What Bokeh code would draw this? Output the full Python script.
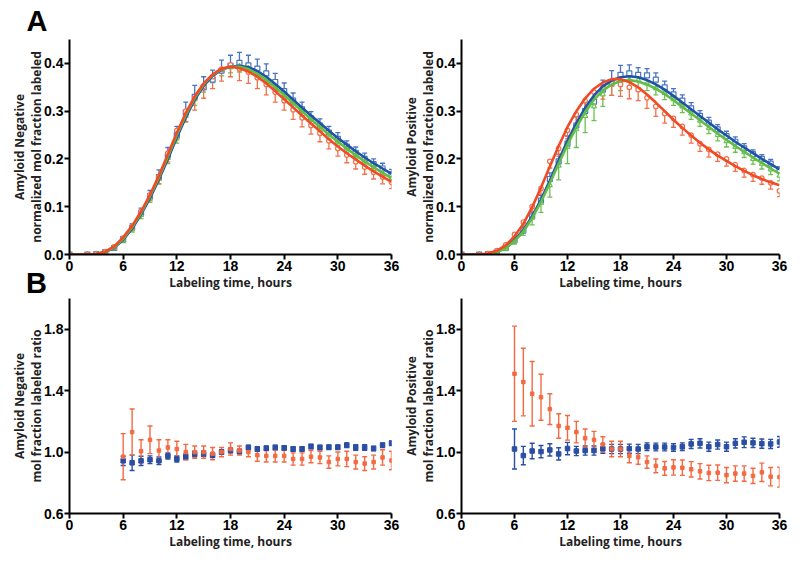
from bokeh.plotting import figure
from bokeh.models import (Range1d, ColumnDataSource, Whisker, TeeHead, Title, Div,
                          FixedTicker, PrintfTickFormatter)
from bokeh.layouts import column, row
from bokeh.embed import file_html
from bokeh.resources import INLINE

# ---------------- data ----------------
CURVE_HOURS = list(range(0, 37))
POINT_HOURS = [0] + list(range(2, 37))
RATIO_HOURS = list(range(6, 37))

neg_blue_fit = [0, 0, 0, 0.001, 0.005, 0.014, 0.031, 0.054, 0.084, 0.118, 0.157, 0.200, 0.245, 0.287, 0.324,
                0.353, 0.374, 0.387, 0.393, 0.395, 0.392, 0.384, 0.372, 0.357, 0.341, 0.324, 0.307, 0.291,
                0.275, 0.259, 0.244, 0.230, 0.216, 0.203, 0.191, 0.180, 0.169]
neg_green_fit = [0, 0, 0, 0.001, 0.005, 0.015, 0.033, 0.057, 0.087, 0.122, 0.161, 0.205, 0.250, 0.292, 0.328,
                 0.356, 0.376, 0.388, 0.393, 0.393, 0.388, 0.378, 0.365, 0.350, 0.334, 0.317, 0.300, 0.283,
                 0.267, 0.251, 0.236, 0.222, 0.208, 0.195, 0.183, 0.171, 0.160]
neg_red_fit = [0, 0, 0, 0.001, 0.006, 0.017, 0.036, 0.060, 0.090, 0.125, 0.165, 0.210, 0.255, 0.296, 0.331,
               0.358, 0.377, 0.389, 0.393, 0.390, 0.383, 0.372, 0.358, 0.342, 0.325, 0.308, 0.291, 0.274,
               0.258, 0.241, 0.226, 0.212, 0.199, 0.186, 0.174, 0.163, 0.152]
neg_blue_pts = [0, 0, 0.001, 0.005, 0.014, 0.032, 0.056, 0.087, 0.122, 0.162, 0.208, 0.250, 0.297, 0.330,
                0.350, 0.366, 0.385, 0.395, 0.401, 0.396, 0.389, 0.379, 0.361, 0.342, 0.322, 0.304, 0.285,
                0.270, 0.255, 0.242, 0.226, 0.213, 0.200, 0.189, 0.180, 0.168]
neg_blue_err = [0, 0, 0.001, 0.002, 0.004, 0.006, 0.008, 0.010, 0.012, 0.015, 0.016, 0.018, 0.022, 0.024,
                0.022, 0.020, 0.022, 0.022, 0.022, 0.021, 0.020, 0.020, 0.018, 0.017, 0.016, 0.015, 0.014,
                0.014, 0.013, 0.013, 0.012, 0.012, 0.012, 0.011, 0.011, 0.010]
neg_green_pts = [0, 0, 0.001, 0.004, 0.013, 0.030, 0.053, 0.083, 0.118, 0.158, 0.202, 0.245, 0.290, 0.325,
                 0.352, 0.372, 0.386, 0.392, 0.394, 0.390, 0.379, 0.366, 0.350, 0.334, 0.317, 0.300, 0.283,
                 0.267, 0.251, 0.236, 0.222, 0.208, 0.195, 0.183, 0.171, 0.160]
neg_green_err = [0, 0, 0.001, 0.002, 0.003, 0.005, 0.006, 0.008, 0.009, 0.010, 0.012, 0.012, 0.013, 0.013,
                 0.012, 0.012, 0.012, 0.012, 0.012, 0.011, 0.011, 0.011, 0.010, 0.010, 0.010, 0.009, 0.009,
                 0.009, 0.009, 0.008, 0.008, 0.008, 0.008, 0.008, 0.008, 0.008]
neg_red_pts = [0, 0, 0.001, 0.006, 0.016, 0.034, 0.058, 0.090, 0.125, 0.163, 0.212, 0.260, 0.300, 0.327,
               0.352, 0.372, 0.388, 0.397, 0.389, 0.382, 0.370, 0.356, 0.340, 0.322, 0.303, 0.286, 0.270,
               0.254, 0.238, 0.222, 0.208, 0.194, 0.183, 0.172, 0.162, 0.151]
neg_red_err = [0, 0, 0.001, 0.002, 0.004, 0.006, 0.008, 0.010, 0.012, 0.015, 0.018, 0.020, 0.022, 0.025,
               0.025, 0.025, 0.025, 0.025, 0.025, 0.024, 0.023, 0.022, 0.021, 0.020, 0.020, 0.019, 0.018,
               0.018, 0.017, 0.016, 0.016, 0.015, 0.015, 0.014, 0.014, 0.013]

pos_blue_fit = [0, 0, 0, 0.001, 0.005, 0.014, 0.030, 0.051, 0.080, 0.115, 0.155, 0.197, 0.238, 0.275, 0.307,
                0.333, 0.352, 0.364, 0.371, 0.373, 0.371, 0.365, 0.356, 0.345, 0.332, 0.318, 0.304, 0.290,
                0.276, 0.262, 0.249, 0.236, 0.224, 0.212, 0.200, 0.189, 0.178]
pos_green_fit = [0, 0, 0, 0.001, 0.005, 0.013, 0.028, 0.048, 0.076, 0.110, 0.149, 0.190, 0.230, 0.266, 0.298,
                 0.324, 0.343, 0.356, 0.363, 0.365, 0.362, 0.356, 0.347, 0.336, 0.323, 0.309, 0.295, 0.281,
                 0.267, 0.253, 0.240, 0.227, 0.215, 0.203, 0.192, 0.180, 0.169]
pos_red_fit = [0, 0, 0, 0.002, 0.008, 0.019, 0.038, 0.064, 0.099, 0.140, 0.184, 0.227, 0.267, 0.300, 0.327,
               0.347, 0.360, 0.367, 0.367, 0.361, 0.350, 0.335, 0.318, 0.300, 0.282, 0.265, 0.249, 0.234,
               0.220, 0.207, 0.196, 0.185, 0.175, 0.166, 0.158, 0.151, 0.145]
pos_blue_pts = [0, 0, 0.001, 0.005, 0.014, 0.030, 0.050, 0.080, 0.113, 0.158, 0.195, 0.232, 0.270, 0.300,
                0.320, 0.345, 0.360, 0.376, 0.379, 0.376, 0.375, 0.366, 0.350, 0.335, 0.322, 0.306, 0.290,
                0.276, 0.262, 0.248, 0.236, 0.222, 0.210, 0.200, 0.190, 0.176]
pos_blue_err = [0, 0, 0.001, 0.002, 0.003, 0.005, 0.007, 0.009, 0.011, 0.013, 0.015, 0.016, 0.018, 0.020,
                0.020, 0.020, 0.025, 0.020, 0.018, 0.015, 0.014, 0.014, 0.013, 0.012, 0.012, 0.012, 0.011,
                0.011, 0.010, 0.010, 0.010, 0.010, 0.009, 0.009, 0.009, 0.008]
pos_green_pts = [0, 0, 0.001, 0.004, 0.012, 0.028, 0.050, 0.077, 0.108, 0.145, 0.186, 0.225, 0.262, 0.290,
                 0.310, 0.335, 0.355, 0.363, 0.365, 0.365, 0.358, 0.348, 0.338, 0.325, 0.310, 0.295, 0.280,
                 0.265, 0.250, 0.237, 0.225, 0.214, 0.200, 0.190, 0.178, 0.165]
pos_green_err = [0, 0, 0.001, 0.002, 0.004, 0.006, 0.010, 0.015, 0.020, 0.025, 0.030, 0.035, 0.038, 0.035,
                 0.030, 0.025, 0.022, 0.020, 0.018, 0.016, 0.015, 0.014, 0.014, 0.013, 0.013, 0.012, 0.012,
                 0.012, 0.012, 0.012, 0.011, 0.011, 0.011, 0.011, 0.011, 0.011]
pos_red_pts = [0, 0, 0.002, 0.008, 0.020, 0.042, 0.068, 0.100, 0.138, 0.195, 0.222, 0.260, 0.293, 0.322,
               0.340, 0.350, 0.358, 0.356, 0.350, 0.345, 0.328, 0.310, 0.295, 0.285, 0.268, 0.250, 0.232,
               0.220, 0.210, 0.200, 0.188, 0.176, 0.167, 0.160, 0.150, 0.133]
pos_red_err = [0, 0, 0.001, 0.002, 0.004, 0.006, 0.008, 0.010, 0.012, 0.014, 0.016, 0.018, 0.020, 0.022,
               0.024, 0.025, 0.025, 0.025, 0.024, 0.023, 0.022, 0.021, 0.020, 0.019, 0.018, 0.017, 0.016,
               0.016, 0.015, 0.015, 0.014, 0.014, 0.014, 0.013, 0.013, 0.012]

neg_ratio_blue = [0.943, 0.930, 0.943, 0.950, 0.943, 0.975, 0.955, 0.970, 0.988, 0.990, 0.980, 1.000, 1.010,
                  1.004, 1.030, 1.020, 1.025, 1.030, 1.027, 1.020, 1.020, 1.036, 1.030, 1.032, 1.032, 1.045,
                  1.030, 1.030, 1.023, 1.045, 1.058]
neg_ratio_blue_err = [0.030, 0.050, 0.030, 0.025, 0.025, 0.020, 0.020, 0.018, 0.018, 0.018, 0.015, 0.015,
                      0.015, 0.015, 0.015, 0.015, 0.015, 0.015, 0.015, 0.015, 0.015, 0.015, 0.015, 0.015,
                      0.015, 0.015, 0.018, 0.018, 0.015, 0.015, 0.015]
neg_ratio_red = [0.970, 1.130, 1.005, 1.080, 1.010, 1.030, 1.020, 1.000, 1.000, 1.000, 0.990, 1.000, 1.020,
                 1.010, 1.000, 0.980, 0.975, 0.975, 0.975, 0.955, 0.955, 0.970, 0.965, 0.935, 0.955, 0.955,
                 0.935, 0.925, 0.935, 0.965, 0.945]
neg_ratio_red_err = [0.150, 0.150, 0.075, 0.090, 0.070, 0.050, 0.050, 0.050, 0.040, 0.040, 0.040, 0.030,
                     0.040, 0.030, 0.030, 0.040, 0.040, 0.040, 0.040, 0.040, 0.040, 0.040, 0.040, 0.040,
                     0.045, 0.050, 0.045, 0.045, 0.045, 0.050, 0.060]
pos_ratio_blue = [1.020, 0.977, 1.007, 1.003, 1.014, 0.988, 1.023, 1.007, 1.010, 1.010, 1.022, 1.020, 1.020,
                  1.022, 1.020, 1.035, 1.033, 1.033, 1.030, 1.035, 1.053, 1.057, 1.035, 1.049, 1.035, 1.057,
                  1.064, 1.060, 1.055, 1.053, 1.066]
pos_ratio_blue_err = [0.130, 0.060, 0.050, 0.040, 0.040, 0.040, 0.040, 0.030, 0.030, 0.030, 0.030, 0.030,
                      0.030, 0.030, 0.030, 0.025, 0.025, 0.025, 0.025, 0.025, 0.030, 0.030, 0.030, 0.030,
                      0.030, 0.030, 0.035, 0.030, 0.030, 0.030, 0.035]
pos_ratio_red = [1.510, 1.456, 1.380, 1.357, 1.280, 1.170, 1.158, 1.130, 1.090, 1.080, 1.050, 1.020, 1.020,
                 0.975, 0.966, 0.935, 0.910, 0.894, 0.900, 0.898, 0.888, 0.875, 0.864, 0.866, 0.850, 0.860,
                 0.860, 0.845, 0.868, 0.840, 0.837]
pos_ratio_red_err = [0.310, 0.220, 0.210, 0.150, 0.100, 0.080, 0.080, 0.070, 0.060, 0.055, 0.050, 0.050,
                     0.050, 0.045, 0.045, 0.040, 0.045, 0.045, 0.050, 0.050, 0.050, 0.050, 0.050, 0.050,
                     0.050, 0.050, 0.050, 0.050, 0.060, 0.060, 0.065]

X_TICKS = [0, 6, 12, 18, 24, 30, 36]
TOP_Y_TICKS = [0.0, 0.1, 0.2, 0.3, 0.4]
BOT_Y_TICKS = [0.6, 1.0, 1.4, 1.8]
X_TITLE = "Labeling time, hours"
Y_TITLES = {
    "tl": "Amyloid Negative\nnormalized mol fraction labeled",
    "tr": "Amyloid Positive\nnormalized mol fraction labeled",
    "bl": "Amyloid Negative\nmol fraction labeled ratio",
    "br": "Amyloid Positive\nmol fraction labeled ratio",
}
PANEL_LETTERS = ["A", "B"]

# ---------------- styling ----------------
BLUE_LINE, GREEN_LINE, RED_LINE = "#1f53a6", "#62bc48", "#f24a24"
BLUE_PT, GREEN_PT, RED_PT = "#4a74c2", "#6cc250", "#f2704c"
BLUE_B, RED_B = "#2a4ea3", "#f36a42"
TICK_FONT = "Liberation Sans"
TITLE_FONT = "Open Sans"


def make_fig(y_range, y_ticks, y_title, left, right, top, bottom, height):
    p = figure(width=400, height=height, x_range=Range1d(0, 36), y_range=Range1d(*y_range),
               output_backend="svg", toolbar_location=None,
               min_border_left=left, min_border_right=right,
               min_border_top=top, min_border_bottom=bottom)
    p.outline_line_color = None
    p.grid.visible = False
    for ax in (p.xaxis[0], p.yaxis[0]):
        ax.axis_line_width = 2
        ax.axis_line_color = "black"
        ax.major_tick_line_width = 2
        ax.major_tick_line_color = "black"
        ax.major_tick_out = 5
        ax.major_tick_in = 0
        ax.minor_tick_line_color = None
        ax.major_label_text_font = TICK_FONT
        ax.major_label_text_font_style = "bold"
        ax.major_label_text_font_size = "14px"
        ax.major_label_text_color = "black"
        ax.axis_label_text_font = TITLE_FONT
        ax.axis_label_text_font_style = "bold"
        ax.axis_label_text_font_size = "12px"
        ax.axis_label_text_color = "#222222"
    p.xaxis.ticker = FixedTicker(ticks=X_TICKS)
    p.xaxis.major_label_standoff = 1
    p.xaxis.axis_label = X_TITLE
    p.xaxis.axis_label_standoff = 0
    p.yaxis.ticker = FixedTicker(ticks=y_ticks)
    p.yaxis.formatter = PrintfTickFormatter(format="%.1f")
    p.yaxis.major_label_standoff = 1
    p.yaxis.axis_label = y_title
    p.yaxis.axis_label_standoff = -4
    p.yaxis.axis_label_text_line_height = 1.0
    return p


def errbars(p, x, y, err, color, up=True, down=True, head=5, width=1.3):
    lo = [yy - e if down else yy for yy, e in zip(y, err)]
    hi = [yy + e if up else yy for yy, e in zip(y, err)]
    src = ColumnDataSource(dict(x=x, lo=lo, hi=hi))
    w = Whisker(base="x", lower="lo", upper="hi", source=src, line_color=color, line_width=width,
                upper_head=TeeHead(size=head, line_color=color, line_width=width) if up else None,
                lower_head=TeeHead(size=head, line_color=color, line_width=width) if down else None)
    p.add_layout(w)


def kinetics(p, blue_fit, green_fit, red_fit, bp, be, gp, ge, rp, re):
    errbars(p, POINT_HOURS, bp, be, BLUE_PT, up=True, down=False)
    errbars(p, POINT_HOURS, gp, ge, GREEN_PT, up=False, down=True)
    errbars(p, POINT_HOURS, rp, re, RED_PT, up=False, down=True)
    p.scatter(POINT_HOURS, bp, marker="square", size=5, line_color=BLUE_PT, fill_color="white", line_width=1.2)
    p.scatter(POINT_HOURS, gp, marker="triangle", size=5, line_color=GREEN_PT, fill_color="white", line_width=1.2)
    p.scatter(POINT_HOURS, rp, marker="circle", size=4.5, line_color=RED_PT, fill_color="white", line_width=1.2)
    p.line(CURVE_HOURS, blue_fit, line_color=BLUE_LINE, line_width=2.6)
    p.line(CURVE_HOURS, green_fit, line_color=GREEN_LINE, line_width=2.6)
    p.line(CURVE_HOURS, red_fit, line_color=RED_LINE, line_width=2.6)


def ratios(p, bv, be, rv, re):
    errbars(p, RATIO_HOURS, bv, be, BLUE_B, head=5, width=1.4)
    p.scatter(RATIO_HOURS, bv, marker="square", size=4.5, line_color=BLUE_B, fill_color=BLUE_B)
    errbars(p, RATIO_HOURS, rv, re, RED_B, head=5, width=1.4)
    p.scatter(RATIO_HOURS, rv, marker="square", size=3.5, line_color=RED_B, fill_color=RED_B)


TOP_H, BOT_H = 294, 267

p1 = make_fig((0, 0.45), TOP_Y_TICKS, Y_TITLES["tl"], 69, 9, 39, 40, TOP_H)
kinetics(p1, neg_blue_fit, neg_green_fit, neg_red_fit, neg_blue_pts, neg_blue_err,
         neg_green_pts, neg_green_err, neg_red_pts, neg_red_err)
p1.title = Title(text=PANEL_LETTERS[0], align="left", offset=-43, standoff=5,
                 text_font="Liberation Sans", text_font_style="bold", text_font_size="29px",
                 text_color="black")

p2 = make_fig((0, 0.45), TOP_Y_TICKS, Y_TITLES["tr"], 57, 21, 39, 40, TOP_H)
kinetics(p2, pos_blue_fit, pos_green_fit, pos_red_fit, pos_blue_pts, pos_blue_err,
         pos_green_pts, pos_green_err, pos_red_pts, pos_red_err)

p3 = make_fig((0.6, 2.0), BOT_Y_TICKS, Y_TITLES["bl"], 69, 9, 4, 48, BOT_H)
ratios(p3, neg_ratio_blue, neg_ratio_blue_err, neg_ratio_red, neg_ratio_red_err)

p4 = make_fig((0.6, 2.0), BOT_Y_TICKS, Y_TITLES["br"], 57, 21, 4, 48, BOT_H)
ratios(p4, pos_ratio_blue, pos_ratio_blue_err, pos_ratio_red, pos_ratio_red_err)

letter_b = Div(text=PANEL_LETTERS[1], width=36, height=34,
               styles={"position": "absolute", "left": "21px", "top": "264px", "z-index": "10",
                       "font-family": "'Liberation Sans', Arial, sans-serif", "font-weight": "bold",
                       "font-size": "29px", "line-height": "29px", "color": "black"})

layout = column(row(p1, p2), row(p3, p4), letter_b)

with open("out.html", "w") as f:
    f.write(file_html(layout, INLINE))
